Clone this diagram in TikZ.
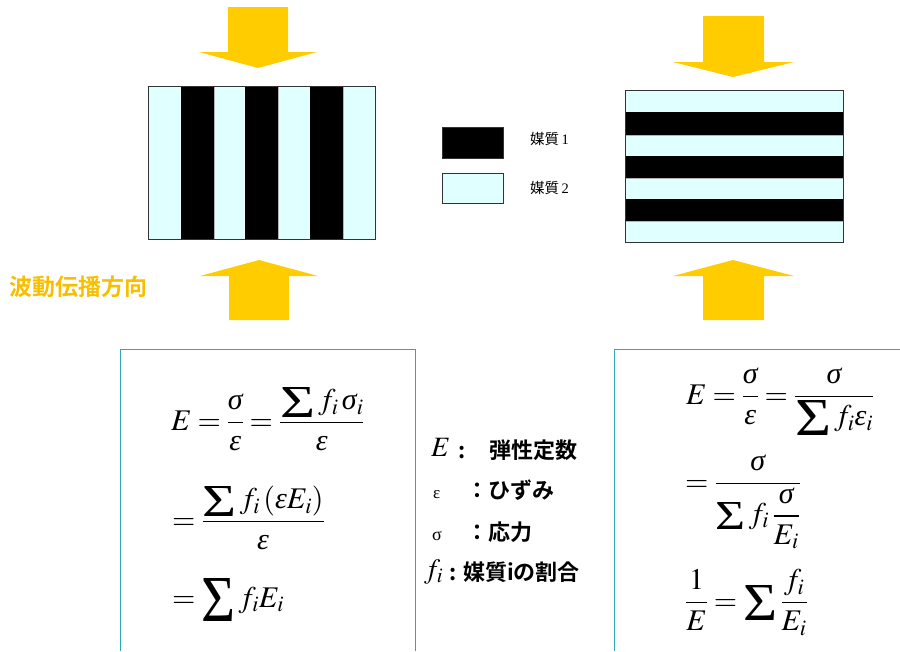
\documentclass[tikz,border=0pt]{standalone}
\usepackage{mathptmx}
\usepackage{graphicx}
\usepackage{fontspec}
\setmainfont{Liberation Serif}
\newfontfamily\jp{Noto Sans CJK JP}
\newfontfamily\jpb{Noto Sans CJK JP Bold}
\newfontfamily\serif{Liberation Serif}
\newcommand\gsig{\mbox{\serif\itshape σ}}
\newcommand\geps{\mbox{\serif\itshape ε}}
\newcommand\Sig[2]{\mathop{\vcenter{\hbox{\resizebox{#1}{#2}{\serif Σ}}}}\nolimits}
\thickmuskip=3.5mu
\definecolor{lcyan}{HTML}{E0FFFF}
\definecolor{arrowyel}{HTML}{FFCC00}
\definecolor{txtyel}{HTML}{F8BF00}
\definecolor{tealbox}{HTML}{2EAAAA}
\tikzset{
  lightstripe/.style={fill=lcyan, draw=gray!60, line width=0.5pt},
  darkstripe/.style={fill=black, draw=black, line width=0.5pt},
  bigarrow/.style={fill=arrowyel, draw=none},
  eqbox/.style={draw=tealbox, line width=1pt},
  eq/.style={anchor=base west, inner sep=0pt, font=\fontsize{30}{34}\selectfont},
  lab/.style={anchor=base west, inner sep=0pt, font=\fontsize{22}{26}\selectfont\jpb},
  legtxt/.style={anchor=west, inner sep=0pt, font=\fontsize{14.5}{17}\selectfont\jp},
}
\begin{document}
\begin{tikzpicture}[x=1pt,y=-1pt]
\useasboundingbox (0,0) rectangle (900,651);
% arrows
\fill[bigarrow] (228,7) -- (288,7) -- (288,52) -- (317,52) -- (258,68) -- (199,52) -- (228,52) -- cycle;
\fill[bigarrow] (229,320) -- (289,320) -- (289,276) -- (318,276) -- (259,260) -- (200,276) -- (229,276) -- cycle;
\fill[bigarrow] (703,16) -- (764,16) -- (764,62) -- (794,62) -- (733,77) -- (673,62) -- (703,62) -- cycle;
\fill[bigarrow] (703,320) -- (764,320) -- (764,276) -- (794,276) -- (733,260) -- (673,276) -- (703,276) -- cycle;
% left stripes
\foreach \a/\b [count=\k] in {148/181,181/214,214/245,245/278,278/310,310/343,343/375}{
  \ifodd\k \path[lightstripe] (\a,86) rectangle (\b,239); \else \path[darkstripe] (\a,86) rectangle (\b,239); \fi
}
\draw[line width=0.8pt, black!80] (148,86) rectangle (375,239);
% right stripes
\foreach \a/\b [count=\k] in {90/112,112/135,135/156,156/178,178/199,199/221,221/242}{
  \ifodd\k \path[lightstripe] (625,\a) rectangle (843,\b); \else \path[darkstripe] (625,\a) rectangle (843,\b); \fi
}
\draw[line width=0.8pt, black!80] (625,90) rectangle (843,242);
% legend
\node[draw=black!80, fill=black, minimum width=61pt, minimum height=31pt, inner sep=0pt] (leg1) at (472.5,142.5) {};
\node[draw=black!80, line width=0.8pt, fill=lcyan, minimum width=61pt, minimum height=30pt, inner sep=0pt] (leg2) at (472.5,188) {};
\node[legtxt] (leg1t) at (530,139) {媒質\,{\serif 1}};
\node[legtxt] (leg2t) at (530,188) {媒質\,{\serif 2}};
% direction label
\node[anchor=west, inner sep=0pt, text=txtyel, font=\fontsize{23}{27}\selectfont\jpb] (dir) at (9,287) {波動伝播方向};
% boxes
\draw[eqbox] (120,651) -- (120,349) -- (415,349) -- (415,651);
\draw[eqbox] (614,651) -- (614,349) -- (900,349);
% left equations
\node[eq] (l1) at (171,430) {$\displaystyle E=\frac{\gsig}{\geps}=\frac{\Sig{35pt}{30pt} f_i\,\gsig_i}{\geps}$};
\node[eq] (l2) at (172,529) {$\displaystyle =\frac{\Sig{34pt}{30pt} f_i\left(\geps E_i\right)}{\geps}$};
\node[eq] (l3) at (172,607) {$\displaystyle =\Sig{34pt}{43pt} f_iE_i$};
% right equations
\node[eq] (r1) at (686,404) {$\displaystyle E=\frac{\gsig}{\geps}=\frac{\gsig}{\Sig{36pt}{35pt} f_i\geps_i}$};
\node[eq] (r2) at (685,491) {$\displaystyle =\frac{\gsig}{\displaystyle\Sig{30pt}{27pt} f_i\,\frac{\gsig}{E_i}}$};
\node[eq] (r3) at (685,610) {$\displaystyle \frac{1}{E}=\Sig{34pt}{35pt}\frac{f_i}{E_i}$};
% labels
\node[eq, font=\fontsize{28}{30}\selectfont] (d1s) at (431,456) {$E$};
\node[lab] (d1c) at (458,458) {:};
\node[lab] (d1t) at (489,458) {弾性定数};
\node[anchor=base west, inner sep=0pt, font=\fontsize{17}{20}\selectfont\serif] (d2s) at (433,498) {ε};
\node[lab] (d2c) at (466,498) {：};
\node[lab] (d2t) at (488,498) {ひずみ};
\node[anchor=base west, inner sep=0pt, font=\fontsize{18}{20}\selectfont\serif] (d3s) at (432,540) {σ};
\node[lab] (d3c) at (466,540) {：};
\node[lab] (d3t) at (488,540) {応力};
\node[eq, font=\fontsize{28}{30}\selectfont] (d4s) at (424,578) {$f_i$};
\node[lab] (d4c) at (449,580) {:};
\node[lab] (d4t) at (463,580) {媒質iの割合};
\end{tikzpicture}
\end{document}
